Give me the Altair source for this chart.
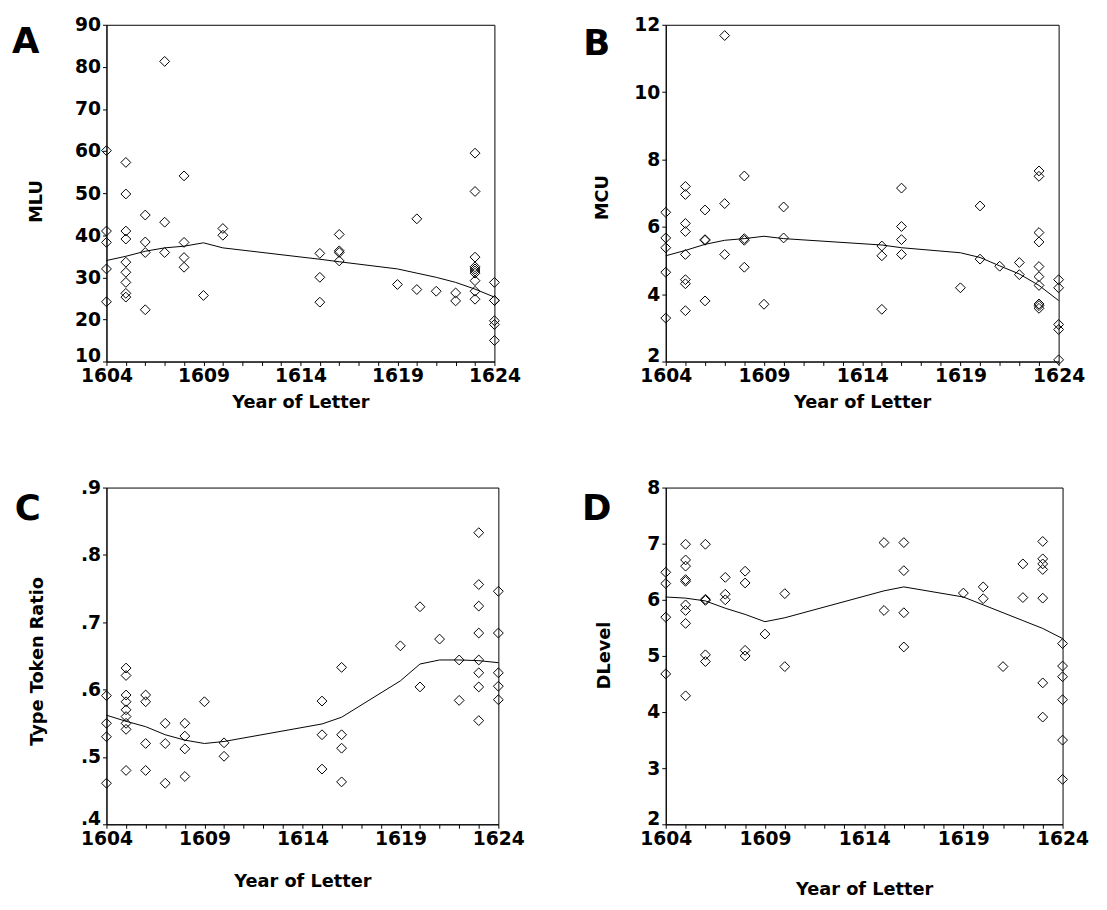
import altair as alt
import pandas as pd

# ---------------- data ----------------
# Panel A: MLU
mlu_year = [1604]*5 + [1605]*9 + [1606]*4 + [1607]*3 + [1608]*4 + [1609] + [1610]*2 + \
           [1615]*3 + [1616]*4 + [1619] + [1620]*2 + [1621] + [1622]*2 + [1623]*10 + [1624]*6
mlu_value = [60.1, 41.0, 38.3, 32.0, 24.2,
             57.3, 49.8, 41.0, 39.1, 33.6, 31.2, 28.8, 26.2, 25.3,
             44.8, 38.4, 35.9, 22.3,
             81.3, 43.1, 35.9,
             54.1, 38.3, 34.7, 32.4,
             25.7,
             41.6, 40.0,
             35.7, 30.0, 24.1,
             40.2, 36.3, 35.9, 33.9,
             28.3,
             43.9, 27.1,
             26.7,
             26.3, 24.4,
             59.5, 50.4, 34.8, 32.5, 32.0, 31.5, 31.0, 29.2, 26.7, 24.8,
             28.8, 24.5, 24.5, 19.7, 18.8, 15.0]
fit_year = [1604, 1605, 1606, 1607, 1608, 1609, 1610, 1615, 1616, 1619, 1620, 1621, 1622, 1623, 1624]
mlu_fit = [34.0, 35.0, 36.2, 37.0, 37.4, 38.2, 37.0, 34.3, 33.7, 32.0, 31.0, 30.0, 28.8, 27.2, 25.3]

# Panel B: MCU
mcu_year = [1604]*5 + [1605]*8 + [1606]*4 + [1607]*3 + [1608]*4 + [1609] + [1610]*2 + \
           [1615]*3 + [1616]*4 + [1619] + [1620]*2 + [1621] + [1622]*2 + [1623]*10 + [1624]*5
mcu_value = [6.43, 5.67, 5.38, 4.65, 3.29,
             7.20, 6.96, 6.10, 5.86, 5.18, 4.43, 4.31, 3.51,
             6.50, 5.62, 5.60, 3.80,
             11.68, 6.69, 5.18,
             7.51, 5.65, 5.60, 4.80,
             3.70,
             6.59, 5.67,
             5.43, 5.14, 3.55,
             7.15, 6.01, 5.62, 5.18,
             4.19,
             6.62, 5.04,
             4.83,
             4.94, 4.58,
             7.66, 7.50, 5.83, 5.55, 4.82, 4.52, 4.26, 3.71, 3.66, 3.58,
             4.43, 4.19, 3.10, 2.95, 2.05]
mcu_fit = [5.14, 5.30, 5.48, 5.60, 5.65, 5.72, 5.65, 5.46, 5.38, 5.23, 5.09, 4.84, 4.60, 4.26, 3.81]

# Panel C: Type Token Ratio
ttr_year = [1604]*4 + [1605]*9 + [1606]*4 + [1607]*3 + [1608]*4 + [1609] + [1610]*2 + \
           [1615]*3 + [1616]*4 + [1619] + [1620]*2 + [1621] + [1622]*2 + [1623]*8 + [1624]*5
ttr_value = [0.591, 0.550, 0.530, 0.461,
             0.632, 0.621, 0.592, 0.582, 0.570, 0.560, 0.550, 0.541, 0.480,
             0.592, 0.582, 0.520, 0.480,
             0.550, 0.520, 0.461,
             0.550, 0.531, 0.512, 0.471,
             0.582,
             0.521, 0.501,
             0.583, 0.533, 0.482,
             0.633, 0.533, 0.513, 0.463,
             0.665,
             0.723, 0.604,
             0.675,
             0.644, 0.584,
             0.833, 0.756, 0.724, 0.684, 0.644, 0.625, 0.604, 0.554,
             0.746, 0.684, 0.625, 0.605, 0.585]
ttr_fit = [0.562, 0.553, 0.545, 0.533, 0.525, 0.520, 0.523, 0.549, 0.559, 0.613, 0.638, 0.644, 0.644, 0.643, 0.640]

# Panel D: DLevel
dl_year = [1604]*4 + [1605]*9 + [1606]*5 + [1607]*3 + [1608]*4 + [1609] + [1610]*2 + \
          [1615]*2 + [1616]*4 + [1619] + [1620]*2 + [1621] + [1622]*2 + [1623]*7 + [1624]*6
dl_value = [6.49, 6.29, 5.69, 4.68,
            6.99, 6.71, 6.60, 6.36, 6.33, 5.91, 5.81, 5.58, 4.29,
            6.99, 6.01, 5.99, 5.02, 4.90,
            6.40, 6.10, 6.00,
            6.51, 6.30, 5.10, 5.00,
            5.39,
            6.11, 4.81,
            7.02, 5.81,
            7.02, 6.52, 5.77, 5.16,
            6.12,
            6.23, 6.02,
            4.81,
            6.64, 6.04,
            7.04, 6.73, 6.64, 6.54, 6.03, 4.52, 3.91,
            5.22, 4.82, 4.63, 4.22, 3.50, 2.80]
dl_fit = [6.05, 6.03, 5.98, 5.85, 5.74, 5.61, 5.68, 6.16, 6.23, 6.05, 5.91, 5.77, 5.63, 5.49, 5.31]

x_ticks = list(range(1604, 1625))
x_title = "Year of Letter"
FONT = "DejaVu Sans"


def panel(px, py, fy, ydom, yvals, ylabel_expr, ytitle, letter, w, h,
          ytitle_x, ytitle_y, xtitle_y, letter_x, letter_y):
    pts = pd.DataFrame({"year": px, "value": py})
    fit = pd.DataFrame({"year": fit_year, "value": fy})
    xenc = alt.X(
        "year:Q",
        scale=alt.Scale(domain=[1604, 1624], nice=False, zero=False),
        axis=alt.Axis(
            values=x_ticks,
            labelExpr="(datum.value - 1604) % 5 == 0 ? format(datum.value, 'd') : ''",
            labelOverlap=False, labelFlush=False, labelPadding=1,
            title=x_title, titleX=w / 2, titleY=xtitle_y,
            titleAlign="center", titleBaseline="middle",
        ),
    )
    yenc = alt.Y(
        "value:Q",
        scale=alt.Scale(domain=ydom, nice=False, zero=False),
        axis=alt.Axis(
            values=yvals, labelExpr=ylabel_expr, labelPadding=2,
            labelOverlap=False,
            labelBaseline={"condition": {"test": f"datum.value <= {ydom[0]}", "value": "alphabetic"},
                           "value": "middle"},
            title=ytitle, titleX=ytitle_x, titleY=ytitle_y, titleAngle=270,
            titleAlign="center", titleBaseline="middle",
        ),
    )
    points = alt.Chart(pts).mark_point(
        shape="diamond", filled=False, color="black", size=100, strokeWidth=1, opacity=1
    ).encode(x=xenc, y=yenc)
    line = alt.Chart(fit).mark_line(color="black", strokeWidth=1).encode(x=xenc, y=yenc)
    lab = alt.Chart(pd.DataFrame({"t": [letter]})).mark_text(
        font=FONT, fontSize=36, fontWeight=900, align="center", baseline="middle", color="black"
    ).encode(text="t:N", x=alt.value(letter_x), y=alt.value(letter_y))
    return alt.layer(points, line, lab).properties(width=w, height=h)


int_label = "format(datum.value, 'd')"
dec_label = "replace(format(datum.value, '.1f'), '0.', '.')"

pA = panel(mlu_year, mlu_value, mlu_fit, [10, 90], list(range(10, 91, 10)), int_label,
           "MLU", "A", 394, 342, -71, 179, 42, -82, 18)
pB = panel(mcu_year, mcu_value, mcu_fit, [2, 12], [2, 4, 6, 8, 10, 12], int_label,
           "MCU", "B", 399, 342, -64, 175, 42, -70, 20)
pC = panel(ttr_year, ttr_value, ttr_fit, [0.4, 0.9], [0.4, 0.5, 0.6, 0.7, 0.8, 0.9], dec_label,
           "Type Token Ratio", "C", 398, 342, -70, 176, 58, -80, 22)
pD = panel(dl_year, dl_value, dl_fit, [2, 8], [2, 3, 4, 5, 6, 7, 8], int_label,
           "DLevel", "D", 403, 342, -62, 170, 66, -70, 22)

chart = alt.concat(
    pA, pB, pC, pD, columns=2, bounds="flush",
    spacing={"row": 128, "column": 170},
).properties(
    padding={"left": 3, "top": 0, "right": 10, "bottom": 5},
    background="white",
).configure_view(
    stroke="black", strokeWidth=1
).configure_axis(
    grid=False,
    domainColor="black", domainWidth=1,
    tickColor="black", tickSize=4, tickWidth=1,
    labelColor="black", labelFont=FONT, labelFontSize=19, labelFontWeight="bold",
    titleColor="black", titleFont=FONT, titleFontSize=18, titleFontWeight="bold",
)

chart.save("out.html", embed_options={"renderer": "svg", "actions": False})
